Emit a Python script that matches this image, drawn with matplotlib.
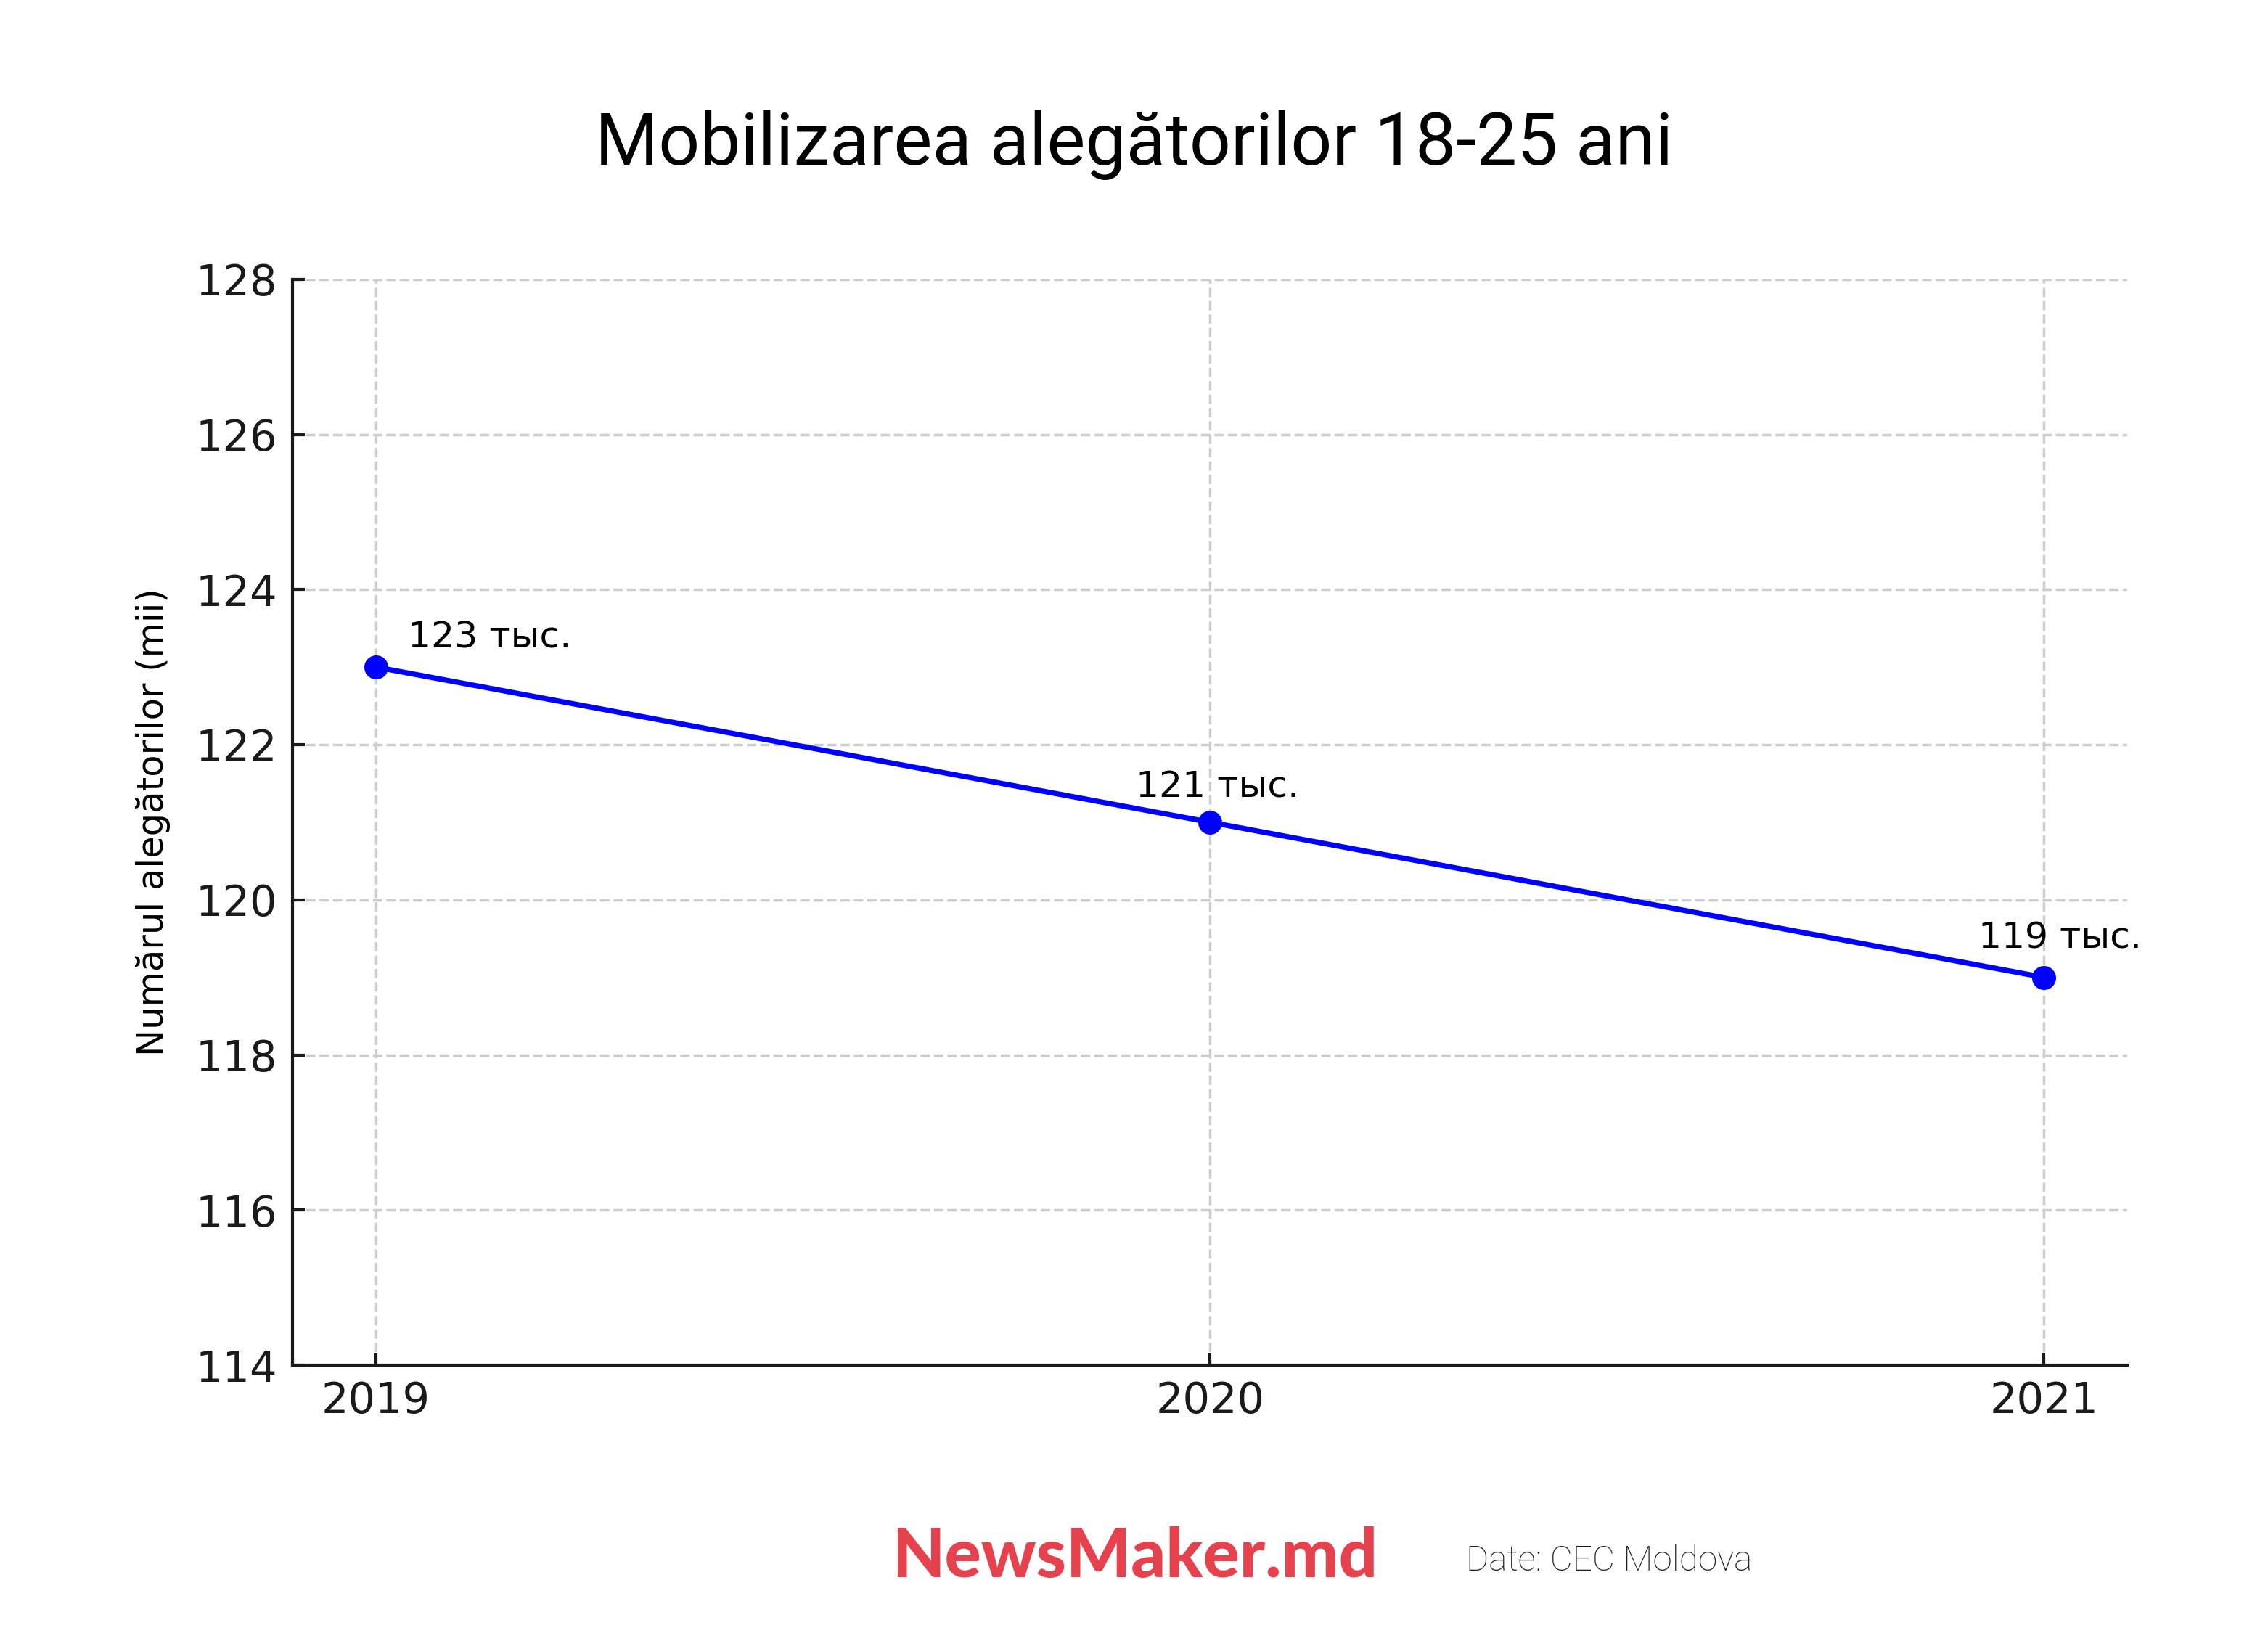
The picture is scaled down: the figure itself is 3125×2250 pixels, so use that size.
import matplotlib
matplotlib.use("Agg")
import matplotlib.pyplot as plt

years = [2019, 2020, 2021]
voters = [123, 121, 119]
labels = ["123 тыс.", "121 тыс.", "119 тыс."]
yticks = [114, 116, 118, 120, 122, 124, 126, 128]

title = "Mobilizarea alegătorilor 18-25 ani"
ylabel = "Numărul alegătorilor (mii)"
brand = "NewsMaker.md"
source = "Date: CEC Moldova"

label_offsets = [(45, 7.8), (3, 10), (6.3, 11.5)]

plt.rcParams['font.family'] = ['DejaVu Sans']
fig = plt.figure(figsize=(12.5, 9), dpi=250)
ax = fig.add_axes([0.129, 0.164, 0.938 - 0.129, 0.829 - 0.164])

ax.plot(years, voters, color='#0000ff', linewidth=2.1, marker='o', markersize=8.5, zorder=3)
for x, y, t, off in zip(years, voters, labels, label_offsets):
    ax.annotate(t, (x, y), xytext=off, textcoords='offset points',
                ha='center', va='baseline', fontsize=14.5, color='black')

ax.set_ylim(114, 128)
ax.set_yticks(yticks)
ax.set_xticks(years)
ax.set_xticklabels([str(y) for y in years])
ax.grid(True, linestyle='--', color='#cccccc', linewidth=1.0)
ax.set_axisbelow(True)
for s in ['top', 'right']:
    ax.spines[s].set_visible(False)
for s in ['left', 'bottom']:
    ax.spines[s].set_linewidth(1.2)
    ax.spines[s].set_color('#1a1a1a')
ax.tick_params(direction='in', length=5, width=1.2, labelsize=17, labelcolor='#1a1a1a', color='#1a1a1a', pad=6)
ax.set_ylabel(ylabel, fontsize=14.3, labelpad=10)

fig.text(0.5, 0.899, title, ha='center', va='baseline', fontsize=28.8, family='Roboto')
fig.text(0.3935, 0.034, brand, ha='left', va='baseline', fontsize=27, family='Lato',
         fontweight='black', color='#e5424d')
fig.text(0.6465, 0.038, source, ha='left', va='baseline', fontsize=13.8, family='Roboto',
         fontweight='light', color='#222222')

fig.savefig('out.png', dpi=250, facecolor='white')
